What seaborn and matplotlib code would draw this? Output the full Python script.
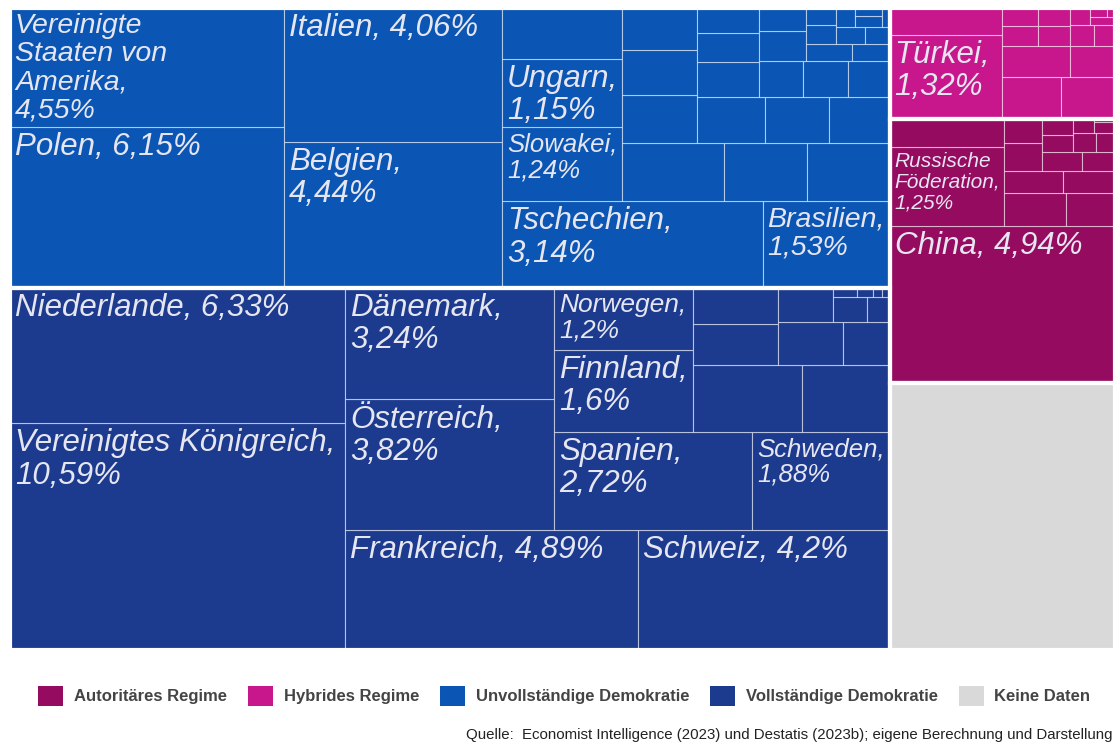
import numpy as np
import matplotlib
matplotlib.use("Agg")
import matplotlib.pyplot as plt
from matplotlib.patches import Rectangle, Patch
import seaborn as sns

sns.set_theme(style="white")
plt.rcParams["font.family"] = ["Liberation Sans", "DejaVu Sans"]

# Exportanteile in Prozent, gruppiert nach Regimetyp (Demokratieindex)
voll_laender = ["Vereinigtes Königreich", "Niederlande", "Frankreich", "Schweiz",
                "Österreich", "Dänemark", "Spanien", "Schweden", "Finnland", "Norwegen"]
voll_anteile = [10.59, 6.33, 4.89, 4.2, 3.82, 3.24, 2.72, 1.88, 1.6, 1.2]
voll_weitere = [1.01, 0.82, 0.49, 0.43, 0.39, 0.28, 0.26, 0.12, 0.08, 0.03, 0.02, 0.01, 0.01]

unvoll_laender = ["Polen", "Vereinigte\nStaaten von\nAmerika", "Belgien", "Italien",
                  "Tschechien", "Brasilien", "Slowakei", "Ungarn"]
unvoll_anteile = [6.15, 4.55, 4.44, 4.06, 3.14, 1.53, 1.24, 1.15]
unvoll_weitere = [0.85, 0.83, 0.68, 0.67, 0.51, 0.47, 0.44, 0.43, 0.41, 0.39, 0.30,
                  0.25, 0.22, 0.22, 0.22, 0.21, 0.20, 0.15, 0.11, 0.09, 0.08, 0.07,
                  0.07, 0.06, 0.05, 0.04, 0.03, 0.02]

hybrid_laender = ["Türkei"]
hybrid_anteile = [1.32]
hybrid_weitere = [0.42, 0.35, 0.32, 0.29, 0.19, 0.10, 0.09, 0.09, 0.08, 0.07, 0.06,
                  0.05, 0.03, 0.02, 0.01]

autoritaer_laender = ["China", "Russische\nFöderation"]
autoritaer_anteile = [4.94, 1.25]
autoritaer_weitere = [0.45, 0.28, 0.22, 0.18, 0.16, 0.15, 0.13, 0.11, 0.09, 0.07,
                      0.07, 0.06, 0.05, 0.04, 0.03, 0.01]

keine_daten = [8.4]

regime = ["Autoritäres Regime", "Hybrides Regime", "Unvollständige Demokratie",
          "Vollständige Demokratie", "Keine Daten"]
regime_farben = sns.color_palette(["#950b5f", "#c8168c", "#0b56b4", "#1d3b8e", "#d9d9d9"])

gruppen = {
    "Vollständige Demokratie": (voll_laender, voll_anteile, voll_weitere),
    "Unvollständige Demokratie": (unvoll_laender, unvoll_anteile, unvoll_weitere),
    "Hybrides Regime": (hybrid_laender, hybrid_anteile, hybrid_weitere),
    "Autoritäres Regime": (autoritaer_laender, autoritaer_anteile, autoritaer_weitere),
    "Keine Daten": ([], [], keine_daten),
}

# --- squarified treemap layout in the unit square, origin bottom-left ---
LAYOUT_W, LAYOUT_H = 1.0, 1.0


def _strip(sizes, x, y, dx, dy):
    rects = []
    if dx >= dy:
        width = sum(sizes) / dy
        for s in sizes:
            rects.append((x, y, width, s / width))
            y += s / width
    else:
        height = sum(sizes) / dx
        for s in sizes:
            rects.append((x, y, s / height, height))
            x += s / height
    return rects


def _leftover(sizes, x, y, dx, dy):
    if dx >= dy:
        width = sum(sizes) / dy
        return x + width, y, dx - width, dy
    height = sum(sizes) / dx
    return x, y + height, dx, dy - height


def _mean_ratio(sizes, x, y, dx, dy):
    r = [max(w / h, h / w) for _, _, w, h in _strip(sizes, x, y, dx, dy)]
    return sum(r) / len(r)


def squarify(values, x, y, dx, dy):
    total = sum(values)
    sizes = [v * dx * dy / total for v in values]
    rects = []
    while sizes:
        if len(sizes) == 1:
            rects += _strip(sizes, x, y, dx, dy)
            break
        i = 1
        while i < len(sizes) and _mean_ratio(sizes[:i], x, y, dx, dy) >= _mean_ratio(sizes[:i + 1], x, y, dx, dy):
            i += 1
        cur, sizes = sizes[:i], sizes[i:]
        rects += _strip(cur, x, y, dx, dy)
        x, y, dx, dy = _leftover(cur, x, y, dx, dy)
    return rects


fig = plt.figure(figsize=(11.15, 7.44), dpi=100)
fig.patch.set_facecolor("white")
ax = fig.add_axes([10 / 1115, 94 / 744, 1105 / 1115, 642 / 744])
ax.set_xlim(0, LAYOUT_W)
ax.set_ylim(0, LAYOUT_H)
ax.axis("off")

farbe = dict(zip(regime, regime_farben))
summen = {k: sum(v[1]) + sum(v[2]) for k, v in gruppen.items()}
reihenfolge = sorted(gruppen, key=lambda k: -summen[k])
gruppen_rects = squarify([summen[k] for k in reihenfolge], 0, 0, LAYOUT_W, LAYOUT_H)

beschriftungen = []
for name, (gx, gy, gw, gh) in zip(reihenfolge, gruppen_rects):
    laender, anteile, weitere = gruppen[name]
    zellen = [(l, v) for l, v in zip(laender, anteile)] + [(None, v) for v in weitere]
    zellen.sort(key=lambda z: -z[1])
    rects = squarify([v for _, v in zellen], gx, gy, gw, gh)
    for (label, v), (x, y, w, h) in zip(zellen, rects):
        ax.add_patch(Rectangle((x, y), w, h, facecolor=farbe[name],
                               edgecolor=(1, 1, 1, 0.5), linewidth=0.8))
        if label is not None:
            beschriftungen.append((label, v, (x, y, w, h)))
    ax.add_patch(Rectangle((gx, gy), gw, gh, fill=False, edgecolor="white",
                           linewidth=3.0, clip_on=False, zorder=3))

# --- labels: largest font size that fits into the cell ---
fig.canvas.draw()
renderer = fig.canvas.get_renderer()
PAD_L, PAD_R, PAD_T, PAD_B = 5, 3, 5, 0
for label, v, (x, y, w, h) in beschriftungen:
    p0 = ax.transData.transform((x, y))
    p1 = ax.transData.transform((x + w, y + h))
    cw, ch = p1[0] - p0[0], p1[1] - p0[1]
    wert = f"{v:g}".replace(".", ",") + "%"
    if "\n" in label:
        varianten = [f"{label},\n{wert}"]
    else:
        varianten = [f"{label}, {wert}", f"{label},\n{wert}"]
    t = ax.annotate("", xy=(x, y + h), xytext=(PAD_L, -PAD_T), textcoords="offset pixels",
                    ha="left", va="top", fontstyle="italic", color="#e6e6f0",
                    linespacing=1.1, zorder=4)
    for fs in np.arange(22.5, 7.9, -0.5):
        passt = False
        for txt in varianten:
            t.set_text(txt)
            t.set_fontsize(fs)
            bb = t.get_window_extent(renderer)
            if bb.width + PAD_L + PAD_R <= cw and bb.height + PAD_T + PAD_B <= ch:
                passt = True
                break
        if passt:
            break

handles = [Patch(facecolor=c, edgecolor="none", label=l) for l, c in zip(regime, regime_farben)]
fig.legend(handles=handles, loc="center left", bbox_to_anchor=(38 / 1115, 1 - 696 / 744),
           ncol=5, frameon=False, prop=dict(family="Liberation Sans", weight="bold", size=12),
           labelcolor="#444444", handlelength=1.5, handleheight=1.55, handletextpad=0.65,
           columnspacing=1.25, borderpad=0, borderaxespad=0)

fig.text(1113 / 1115, 1 - 735 / 744,
         "Quelle:  Economist Intelligence (2023) und Destatis (2023b); eigene Berechnung und Darstellung",
         fontsize=10.8, ha="right", va="center", color="#222222")

fig.savefig("out.png", dpi=100, facecolor="white")
